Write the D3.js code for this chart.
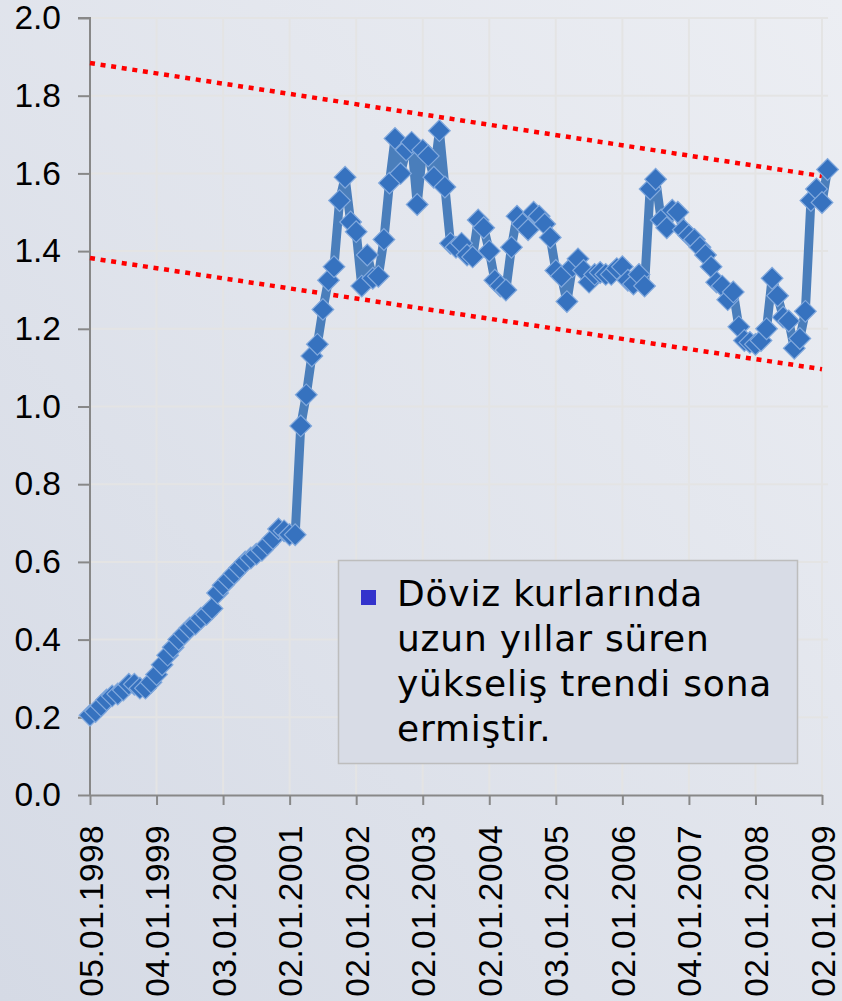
<!DOCTYPE html>
<html>
<head>
<meta charset="utf-8">
<script src="https://cdn.jsdelivr.net/npm/d3@7"></script>
<style>
  html, body { margin: 0; padding: 0; background: #dde1ea; }
  svg { display: block; }
</style>
</head>
<body>
<div id="chart"></div>
<script>
// monthly values, first business day of each month, Jan 1998 .. Feb 2009
const v1998 = [0.205, 0.215, 0.23, 0.245, 0.255, 0.26, 0.27, 0.285, 0.285, 0.275, 0.275, 0.29];
const v1999 = [0.31, 0.335, 0.36, 0.38, 0.40, 0.415, 0.43, 0.44, 0.455, 0.465, 0.48, 0.52];
const v2000 = [0.54, 0.555, 0.57, 0.585, 0.60, 0.61, 0.62, 0.63, 0.645, 0.66, 0.685, 0.68];
const v2001 = [0.67, 0.67, 0.95, 1.03, 1.13, 1.16, 1.25, 1.325, 1.36, 1.53, 1.59, 1.475];
const v2002 = [1.45, 1.31, 1.39, 1.33, 1.335, 1.43, 1.575, 1.69, 1.60, 1.66, 1.68, 1.52];
const v2003 = [1.66, 1.645, 1.59, 1.71, 1.565, 1.42, 1.41, 1.42, 1.39, 1.385, 1.48, 1.46];
const v2004 = [1.40, 1.325, 1.31, 1.30, 1.41, 1.49, 1.47, 1.455, 1.50, 1.49, 1.47, 1.435];
const v2005 = [1.35, 1.335, 1.27, 1.36, 1.38, 1.35, 1.32, 1.34, 1.345, 1.34, 1.34, 1.355];
const v2006 = [1.36, 1.325, 1.315, 1.34, 1.31, 1.56, 1.585, 1.48, 1.46, 1.505, 1.50, 1.455];
const v2007 = [1.44, 1.43, 1.41, 1.39, 1.36, 1.32, 1.31, 1.275, 1.295, 1.205, 1.17, 1.165];
const v2008 = [1.16, 1.17, 1.20, 1.33, 1.285, 1.23, 1.22, 1.15, 1.175, 1.245, 1.53, 1.56];
const v2009 = [1.525, 1.61];

const tickLabels = ['05.01.1998', '04.01.1999', '03.01.2000', '02.01.2001', '02.01.2002', '02.01.2003',
  '02.01.2004', '03.01.2005', '02.01.2006', '04.01.2007', '02.01.2008', '02.01.2009'];
const yTicks = [0, 0.2, 0.4, 0.6, 0.8, 1.0, 1.2, 1.4, 1.6, 1.8, 2.0];

// dotted channel lines, value at first and last labelled month
const trendUpper = [1.884, 1.593];
const trendLower = [1.382, 1.096];

const noteLines = ['Döviz kurlarında', 'uzun yıllar süren', 'yükseliş trendi sona', 'ermiştir.'];

const values = [].concat(v1998, v1999, v2000, v2001, v2002, v2003, v2004, v2005, v2006, v2007, v2008, v2009);
const data = values.map((v, i) => ({ i: i, v: v }));

const W = 842, H = 1001;
const plot = { left: 90, right: 822, top: 18, bottom: 795 };
const lastTick = (tickLabels.length - 1) * 12;

const svg = d3.select('#chart').append('svg')
  .attr('width', W)
  .attr('height', H);

const defs = svg.append('defs');
const bg = defs.append('linearGradient')
  .attr('id', 'bg')
  .attr('x1', 0).attr('y1', 1).attr('x2', 1).attr('y2', 0);
bg.append('stop').attr('offset', '0%').attr('stop-color', '#d5dae5');
bg.append('stop').attr('offset', '100%').attr('stop-color', '#eceef3');

svg.append('rect')
  .attr('width', W).attr('height', H)
  .attr('fill', 'url(#bg)');

const x = d3.scaleLinear().domain([0, lastTick]).range([plot.left, plot.right]);
const y = d3.scaleLinear().domain([0, 2]).range([plot.bottom, plot.top]);

// grid
svg.append('g')
  .selectAll('line')
  .data(yTicks.slice(1))
  .join('line')
  .attr('x1', plot.left).attr('x2', 828)
  .attr('y1', (d) => y(d)).attr('y2', (d) => y(d))
  .attr('stroke', '#e4e4e4')
  .attr('stroke-width', 2);

svg.append('g')
  .selectAll('line')
  .data(d3.range(1, tickLabels.length))
  .join('line')
  .attr('x1', (d) => x(d * 12)).attr('x2', (d) => x(d * 12))
  .attr('y1', plot.top).attr('y2', plot.bottom)
  .attr('stroke', '#e4e4e4')
  .attr('stroke-width', 2);

// axes
const yAxis = svg.append('g')
  .attr('transform', `translate(${plot.left},0)`)
  .call(d3.axisLeft(y).tickValues(yTicks).tickFormat(d3.format('.1f')).tickSize(12).tickPadding(17));

const xAxis = svg.append('g')
  .attr('transform', `translate(0,${plot.bottom})`)
  .call(d3.axisBottom(x).tickValues(d3.range(0, lastTick + 1, 12))
    .tickFormat((d) => tickLabels[d / 12]).tickSize(10).tickSizeOuter(0));

[yAxis, xAxis].forEach((g) => {
  g.select('.domain').attr('stroke', '#888888').attr('stroke-width', 2);
  g.selectAll('.tick line').attr('stroke', '#888888').attr('stroke-width', 2);
  g.selectAll('text')
    .attr('fill', '#000')
    .style('font-family', '"Liberation Sans", Arial, sans-serif')
    .style('font-size', '33.5px');
});
yAxis.select('.domain').attr('d', `M-12,${plot.top}H0V${plot.bottom}`);

xAxis.selectAll('text')
  .attr('text-anchor', 'end')
  .attr('transform', 'rotate(-90)')
  .attr('x', -30)
  .attr('y', 0)
  .attr('dy', '0.36em')
  .style('letter-spacing', '0.4px');

// channel lines
const trend = [
  { a: trendUpper[0], b: trendUpper[1] },
  { a: trendLower[0], b: trendLower[1] }
];
svg.append('g')
  .selectAll('line')
  .data(trend)
  .join('line')
  .attr('x1', x(0)).attr('x2', x(lastTick))
  .attr('y1', (d) => y(d.a)).attr('y2', (d) => y(d.b))
  .attr('stroke', '#ff0000')
  .attr('stroke-width', 4.5)
  .attr('stroke-dasharray', '5,5.7');

// series
const line = d3.line().x((d) => x(d.i)).y((d) => y(d.v));

svg.append('path')
  .datum(data)
  .attr('d', line)
  .attr('fill', 'none')
  .attr('stroke', '#4a7ebb')
  .attr('stroke-width', 9)
  .attr('stroke-linejoin', 'round');

const diamond = d3.symbol().type(d3.symbolSquare).size(235);
svg.append('g')
  .selectAll('path')
  .data(data)
  .join('path')
  .attr('transform', (d) => `translate(${x(d.i)},${y(d.v)}) rotate(45)`)
  .attr('d', diamond)
  .attr('fill', '#3672bf')
  .attr('stroke', '#82a9dd')
  .attr('stroke-width', 1.2);

// note box
const note = svg.append('g');
note.append('rect')
  .attr('x', 338.5).attr('y', 560.5)
  .attr('width', 459).attr('height', 203)
  .attr('fill', '#d8dce6')
  .attr('stroke', '#bdbdbd')
  .attr('stroke-width', 1.5);
note.append('rect')
  .attr('x', 361).attr('y', 590)
  .attr('width', 15).attr('height', 15)
  .attr('fill', '#3333cc');
note.selectAll('text')
  .data(noteLines)
  .join('text')
  .attr('x', 397)
  .attr('y', (d, i) => 606 + i * 45)
  .attr('fill', '#000')
  .style('font-family', '"DejaVu Sans", Verdana, sans-serif')
  .style('font-size', '36px')
  .style('letter-spacing', '0.8px')
  .text((d) => d);
</script>
</body>
</html>
